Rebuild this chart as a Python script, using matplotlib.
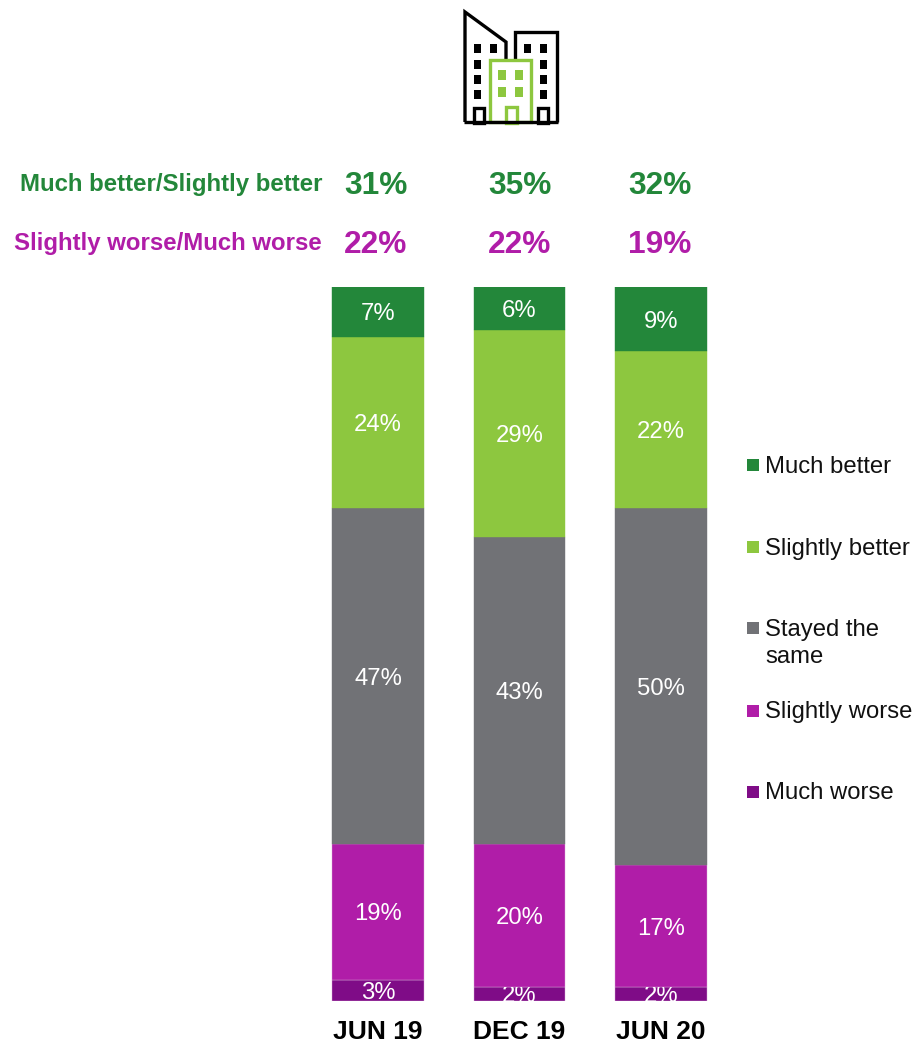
#!/usr/bin/env python3

import matplotlib
matplotlib.use('Agg')
import matplotlib.pyplot as plt
from matplotlib.patches import Rectangle, Polygon
import numpy as np

plt.rcParams['font.family'] = ['Liberation Sans', 'DejaVu Sans']

W, H = 914, 1043

periods = ['JUN 19', 'DEC 19', 'JUN 20']
# stacked bottom to top
much_worse = [3, 2, 2]
slightly_worse = [19, 20, 17]
stayed = [47, 43, 50]
slightly_better = [24, 29, 22]
much_better = [7, 6, 9]
net_better = ['31%', '35%', '32%']
net_worse = ['22%', '22%', '19%']

GREEN = '#23873A'
LIME = '#8DC73F'
GREY = '#717276'
MAGENTA = '#B01DA8'
PURPLE = '#7F0C87'
colors = [PURPLE, MAGENTA, GREY, LIME, GREEN]

fig = plt.figure(figsize=(W / 100, H / 100), dpi=100, facecolor='white')

# bars: 287..1001 px tall, centres 378/519/661 px
left = 378 - 70.75
ax = fig.add_axes([left / W, (H - 1001) / H, 424.5 / W, 714 / H])
ax.set_xlim(-0.5, 2.5)
ax.set_ylim(0, 100)
ax.patch.set_alpha(0)
for s in ax.spines.values():
    s.set_visible(False)
ax.tick_params(length=0, pad=14)
ax.set_yticks([])
ax.set_xticks(range(3))
ax.set_xticklabels(periods, fontsize=19, fontweight='bold', color='black')

x = np.arange(3)
bottom = np.zeros(3)
series = [much_worse, slightly_worse, stayed, slightly_better, much_better]
for vals, col in zip(series, colors):
    bars = ax.bar(x, vals, width=0.65, bottom=bottom, color=col,
                  edgecolor='#d9a8d6' if col in (PURPLE, MAGENTA) else col, linewidth=0.3)
    for i, v in enumerate(vals):
        # labels sit a little under the segment centre, and the 2% ones get cut by the bar
        t = ax.annotate('%d%%' % v, (x[i], bottom[i] + v / 2), xytext=(0, -1.8),
                        textcoords='offset points', color='white', fontsize=17.2,
                        ha='center', va='center', annotation_clip=False)
        t.set_clip_path(bars[i])
        t.set_clip_on(True)
    bottom += vals

# overlay in pixel coordinates for the icon, summary rows and legend
ov = fig.add_axes([0, 0, 1, 1], zorder=3)
ov.set_xlim(0, W)
ov.set_ylim(H, 0)
ov.axis('off')

ov.text(322, 191, 'Much better/Slightly better', color=GREEN, fontsize=17.3,
        fontweight='bold', ha='right', va='baseline')
ov.text(322, 250, 'Slightly worse/Much worse', color=MAGENTA, fontsize=17.3,
        fontweight='bold', ha='right', va='baseline')
for cx, a, b in zip([376, 519.5, 660], net_better, net_worse):
    ov.text(cx, 194, a, color=GREEN, fontsize=22.8, fontweight='bold', ha='center', va='baseline')
    ov.text(cx, 253, b, color=MAGENTA, fontsize=22.8, fontweight='bold', ha='center', va='baseline')

# legend
legend_rows = [('Much better', GREEN, 465, 473),
               ('Slightly better', LIME, 546.5, 554.5),
               ('Stayed the\nsame', GREY, 628, 663),
               ('Slightly worse', MAGENTA, 710.5, 718),
               ('Much worse', PURPLE, 792, 799)]
for label, col, yc, base in legend_rows:
    ov.add_patch(Rectangle((747, yc - 6), 12, 12, fc=col, ec='none'))
    ov.text(765, base, label, fontsize=17.2, color='#111111', va='baseline', ha='left',
            linespacing=1.3)

# building icon
lw = 2.4
ov.add_patch(Polygon([(465, 122), (465, 12), (506, 42), (506, 60)], closed=False,
                     fill=False, ec='black', lw=lw, joinstyle='miter'))
ov.plot([464, 558], [121.5, 121.5], color='black', lw=lw, solid_capstyle='butt')
ov.add_patch(Polygon([(514.5, 60), (514.5, 31.5), (556.5, 31.5), (556.5, 122)], closed=False,
                     fill=False, ec='black', lw=lw, joinstyle='miter'))
for wx in (474, 490, 524, 540):
    ov.add_patch(Rectangle((wx, 44), 7, 8.5, fc='black', ec='none'))
for wx in (474, 540):
    for wy in (60, 75, 90):
        ov.add_patch(Rectangle((wx, wy), 7, 8.5, fc='black', ec='none'))
for dx in (473.5, 537.5):
    ov.add_patch(Rectangle((dx, 107.5), 10.5, 15, fill=False, ec='black', lw=lw))
ov.add_patch(Rectangle((490, 60), 41, 62, fc='white', ec=LIME, lw=lw))
for wx in (498, 515):
    for wy in (70, 87):
        ov.add_patch(Rectangle((wx, wy), 8, 10, fc=LIME, ec='none'))
ov.add_patch(Rectangle((505.5, 106.5), 11, 16, fc='white', ec=LIME, lw=lw))

fig.savefig('out.png', dpi=100, facecolor='white')
